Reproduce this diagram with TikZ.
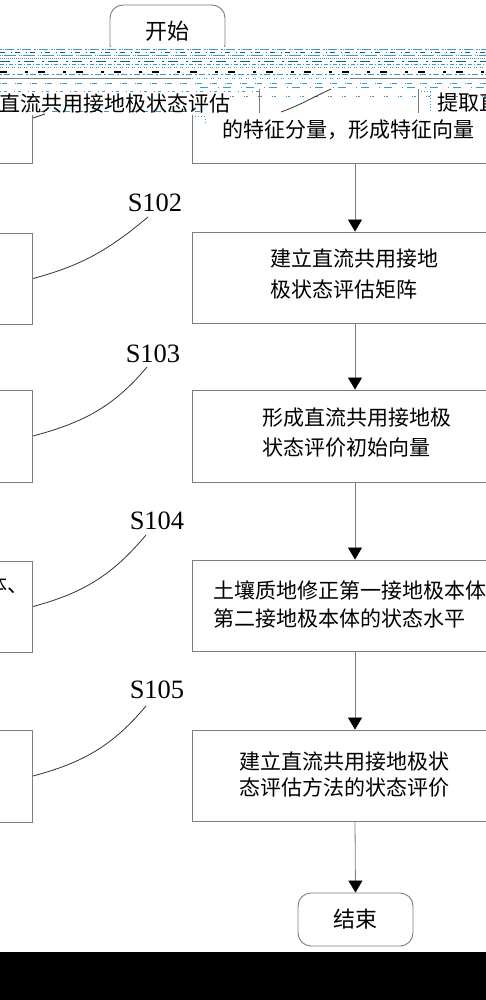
\documentclass[tikz,border=0pt]{standalone}
\usepackage{fontspec}
\setmainfont{Liberation Serif}
\newfontfamily\cjk{Noto Sans CJK SC}
\usetikzlibrary{arrows.meta}
\definecolor{glc}{RGB}{60,155,200}
\definecolor{gld}{RGB}{35,85,125}
\definecolor{boxgray}{RGB}{125,125,125}
\tikzset{
  rbox/.style={draw=boxgray, line width=0.9pt, minimum width=326pt, minimum height=91pt, inner sep=0pt},
  lbox/.style={draw=boxgray, line width=0.9pt, minimum width=140pt, minimum height=91pt, inner sep=0pt, anchor=east},
  term/.style={draw=boxgray, line width=0.9pt, rounded corners=13pt, minimum width=115pt, minimum height=53pt, inner sep=0pt, font=\cjk\fontsize{22}{26}\selectfont},
  ctext/.style={font=\cjk\fontsize{21}{26}\selectfont, inner sep=0pt, anchor=west},
  slabel/.style={font=\fontsize{26.5}{30}\selectfont, inner sep=0pt},
  flow/.style={draw=boxgray, line width=0.8pt, -{Triangle[length=12pt,width=14pt,color=black]}},
  lead/.style={draw=black!80, line width=0.8pt},
  gl/.style={line width=1pt}
}
\begin{document}
\begin{tikzpicture}[x=1pt,y=-1pt]
\useasboundingbox (0,0) rectangle (486,1000);
\clip (0,0) rectangle (486,1000);

% terminals
\node[term] (start) at (167.5,31.5) {开始};
\node[term] (end) at (355.5,919.5) {结束};

% right column boxes
\node[rbox] (b1) at (355,117.5) {};
\node[rbox] (b2) at (355,277.5) {};
\node[rbox, minimum height=92pt] (b3) at (355,436) {};
\node[rbox] (b4) at (355,605.5) {};
\node[rbox] (b5) at (355,775.5) {};

% left column boxes
\node[lbox] (l1) at (33,117.5) {};
\node[lbox] (l2) at (33,278.5) {};
\node[lbox, minimum height=92pt] (l3) at (33,436) {};
\node[lbox] (l4) at (33,606.5) {};
\node[lbox, minimum height=92pt] (l5) at (33,776) {};

% flow arrows
\draw[flow] (b1.south) -- (b2.north);
\draw[flow] (b2.south) -- (b3.north);
\draw[flow] (b3.south) -- (b4.north);
\draw[flow] (b4.south) -- (b5.north);
\draw[flow] (b5.south) -- (end.north);

% step labels and leaders
\node[slabel] (s2) at (155,203) {S102};
\node[slabel] (s3) at (153,354) {S103};
\node[slabel] (s4) at (157,521) {S104};
\node[slabel] (s5) at (157,690) {S105};
\coordinate (c2) at (148,217);
\coordinate (c3) at (147,367);
\coordinate (c4) at (146,535);
\coordinate (c5) at (146,706);
\draw[lead] (c2) to[out=-140,in=15] (l2.east);
\draw[lead] (c3) to[out=-130,in=15] (l3.east);
\draw[lead] (c4) to[out=-130,in=15] (l4.east);
\draw[lead] (c5) to[out=-130,in=15] (l5.east);

% box texts
\node[ctext] (t2a) at (270,259) {建立直流共用接地};
\node[ctext] (t2b) at (270,289) {极状态评估矩阵};
\node[ctext] (t3a) at (262,418) {形成直流共用接地极};
\node[ctext] (t3b) at (262,448) {状态评价初始向量};
\node[ctext] (t4a) at (213,590) {土壤质地修正第一接地极本体};
\node[ctext] (t4b) at (213,618) {第二接地极本体的状态水平};
\node[ctext] (t5a) at (239,762) {建立直流共用接地极状};
\node[ctext] (t5b) at (239,788) {态评估方法的状态评价};
\node[ctext] (t4l) at (-14,585) {体、};

% glitched band
\fill[white] (0,47) rectangle (486,115);
\draw[glc, gl, dash pattern=on 2pt off 1pt on 1pt off 1pt on 9pt off 3pt] (0,50) -- (486,50);
\draw[gld, gl, dash pattern=on 5pt off 6pt on 1pt off 3pt] (0,53) -- (486,53);
\draw[glc, gl, dash pattern=on 1pt off 1pt on 1pt off 1pt on 12pt off 3pt] (0,56) -- (486,56);
\draw[glc, gl, dash pattern=on 1pt off 1pt] (0,59) -- (486,59);
\draw[gld, gl, dash pattern=on 10pt off 8pt on 2pt off 4pt] (0,62) -- (486,62);
\draw[glc, gl, dash pattern=on 4pt off 2pt on 1pt off 2pt] (0,65) -- (486,65);
\draw[glc, gl, dash pattern=on 1pt off 1pt on 1pt off 3pt] (0,68) -- (486,68);
\draw[black, line width=1.3pt, dash pattern=on 7pt off 18pt on 3pt off 10pt] (0,72) -- (486,72);
\draw[glc, gl, dash pattern=on 2pt off 2pt on 6pt off 3pt] (0,75) -- (486,75);
\draw[boxgray, line width=1pt] (0,79) -- (190,79);
\draw[boxgray, line width=1pt] (350,79) -- (486,79);
\draw[glc, gl, dash pattern=on 1pt off 1pt on 1pt off 4pt] (190,79) -- (350,79);
\draw[glc, gl, dash pattern=on 1pt off 1pt on 5pt off 8pt] (0,84) -- (486,84);
\draw[glc, gl, dash pattern=on 8pt off 10pt on 1pt off 4pt] (200,88) -- (486,88);
\draw[glc, gl, dash pattern=on 1pt off 3pt on 3pt off 7pt] (0,92) -- (260,92);
\draw[glc, gl, dash pattern=on 1pt off 1pt on 2pt off 10pt] (230,97) -- (486,97);
\draw[glc, gl, dash pattern=on 5pt off 8pt] (0,112) -- (200,112);
\draw[glc, gl, dash pattern=on 1pt off 2pt] (418,92) -- (430,92) -- (430,113);
\draw[glc, gl, dash pattern=on 1pt off 2pt] (195,117) -- (205,117) -- (205,124);
% fragments of the first step box
\draw[boxgray, line width=0.9pt] (259,89) -- (259,113);
\draw[boxgray, line width=0.9pt] (418,89) -- (418,113);
\coordinate (g1) at (331,89);
\coordinate (g2) at (281,112);
\draw[lead] (g1) to[out=-155,in=20] (g2);
\coordinate (g3) at (45,114);
\coordinate (g4) at (33,118);
\draw[lead] (g3) -- (g4);
\node[ctext] (t1a) at (-1,104) {直流共用接地极状态评估};
\node[ctext] (t1b) at (437,103) {提取直};
\node[ctext] (t1c) at (222,130) {的特征分量，形成特征向量};

% black band at the bottom
\fill[black] (0,952) rectangle (486,1000);
\end{tikzpicture}
\end{document}
